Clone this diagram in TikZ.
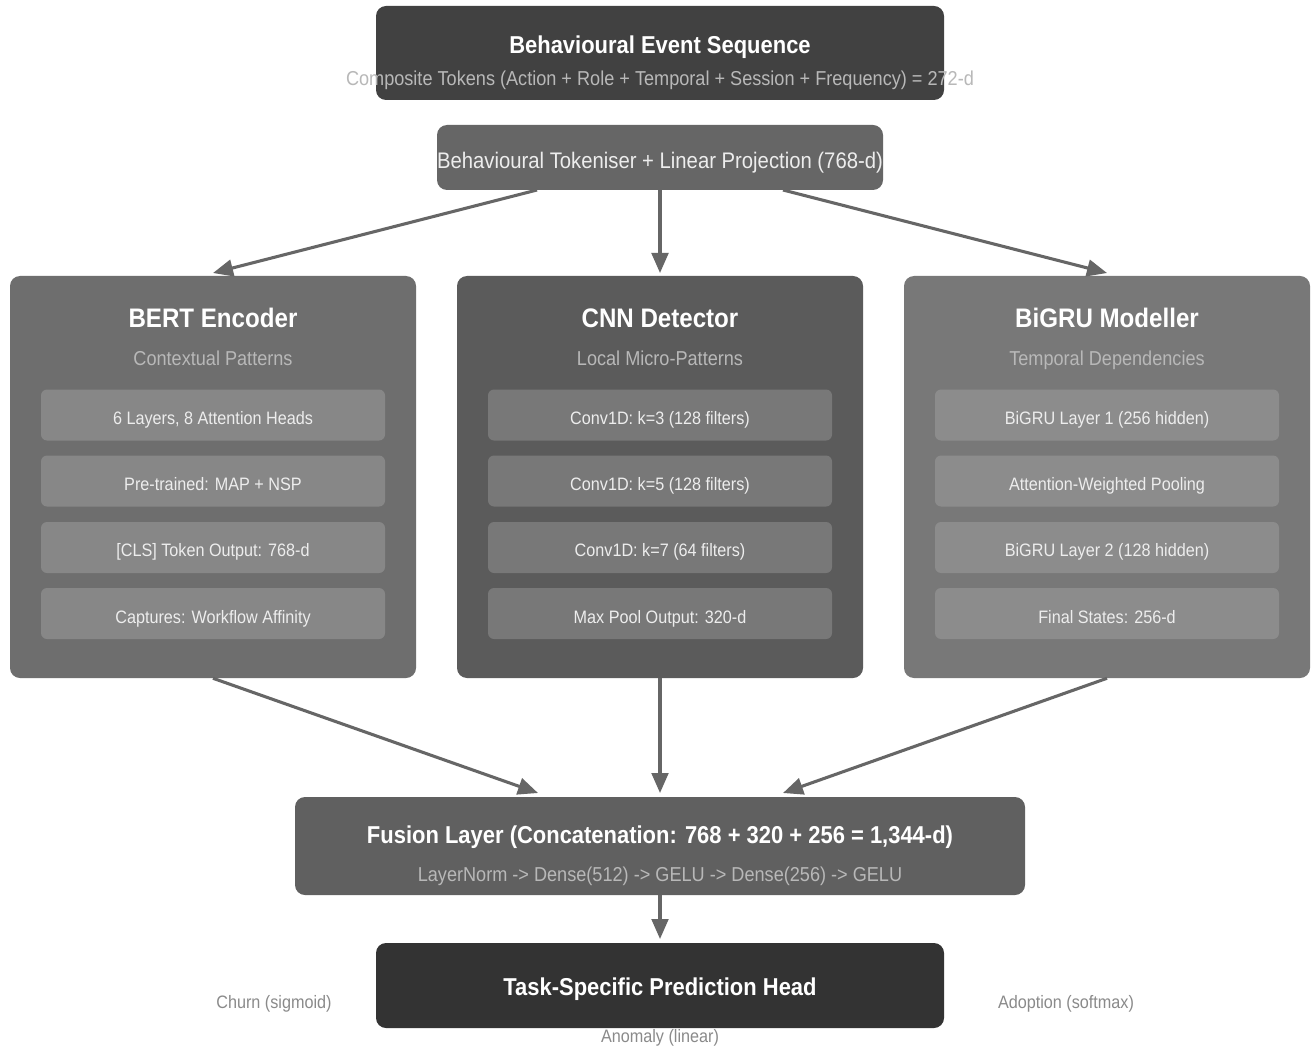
\documentclass[tikz,border=0pt]{standalone}
\usepackage{fontspec}
\setmainfont{Liberation Sans}[FakeStretch=0.9]
\usetikzlibrary{arrows.meta}
\definecolor{topc}{HTML}{414141}
\definecolor{tokc}{HTML}{666666}
\definecolor{bertc}{HTML}{6E6E6E}
\definecolor{bertin}{HTML}{878787}
\definecolor{cnnc}{HTML}{5B5B5B}
\definecolor{cnnin}{HTML}{787878}
\definecolor{gruc}{HTML}{787878}
\definecolor{gruin}{HTML}{8C8C8C}
\definecolor{fusc}{HTML}{606060}
\definecolor{headc}{HTML}{333333}
\definecolor{arrc}{HTML}{666666}
\definecolor{subc}{HTML}{B8B8B8}
\definecolor{labc}{HTML}{8A8A8A}
\newcommand\pxu{0.75pt}
\tikzset{
  boxr/.style={draw=none, rounded corners=7.5pt, inner sep=0pt},
  innerbox/.style={draw=none, rounded corners=4.5pt, inner sep=0pt, minimum width={344*\pxu}, minimum height={51*\pxu}},
  intext/.style={anchor=base, inner sep=0pt, text=white!93!black, font=\fontsize{13.5pt}{16pt}\selectfont},
  ptitle/.style={anchor=base, text=white, font=\fontsize{20.1pt}{23pt}\selectfont\bfseries, inner sep=0pt},
  btitle/.style={anchor=base, text=white, font=\fontsize{18.3pt}{21pt}\selectfont\bfseries, inner sep=0pt},
  psub/.style={anchor=base, text=subc, font=\fontsize{15.1pt}{18pt}\selectfont, inner sep=0pt},
  lab/.style={anchor=base, text=labc, font=\fontsize{13.5pt}{16pt}\selectfont, inner sep=0pt},
  conn/.style={draw=arrc, line width=2.3pt, -{Triangle[length=15pt,width=12.5pt]}},
}
\begin{document}
\begin{tikzpicture}[x=0.75pt,y=-0.75pt]
\useasboundingbox[fill=white] (0,0) rectangle (1312,1048);
% top box
\node[boxr, fill=topc, minimum width={568*\pxu}, minimum height={94*\pxu}] (seq) at (660,53) {};
\node[btitle] (seqt) at (660,53.5) {Behavioural Event Sequence};
\node[psub] (seqs) at (660,86) {Composite Tokens (Action + Role + Temporal + Session + Frequency) = 272-d};
% tokeniser
\node[boxr, fill=tokc, minimum width={446*\pxu}, minimum height={65*\pxu}] (tok) at (660,157.5) {};
\node[anchor=base, text=white!93!black, font=\fontsize{16.9pt}{20pt}\selectfont, inner sep=0pt] (tokt) at (660,169) {Behavioural Tokeniser + Linear Projection (768-d)};
% panels
\foreach \nm/\cx/\pc/\ic/\ttl/\sub/\a/\b/\c/\d in {
 bert/213/bertc/bertin/BERT Encoder/Contextual Patterns/{6 Layers, 8 Attention Heads}/{Pre-trained: MAP + NSP}/{[CLS] Token Output: 768-d}/{Captures: Workflow Affinity},
 cnn/660/cnnc/cnnin/CNN Detector/Local Micro-Patterns/{Conv1D: k=3 (128 filters)}/{Conv1D: k=5 (128 filters)}/{Conv1D: k=7 (64 filters)}/{Max Pool Output: 320-d},
 gru/1107/gruc/gruin/BiGRU Modeller/Temporal Dependencies/{BiGRU Layer 1 (256 hidden)}/{Attention-Weighted Pooling}/{BiGRU Layer 2 (128 hidden)}/{Final States: 256-d}}{
  \node[boxr, fill=\pc, minimum width={406*\pxu}, minimum height={402*\pxu}] (\nm) at (\cx,477) {};
  \node[ptitle] (\nm-t) at (\cx,327.5) {\ttl};
  \node[psub] (\nm-s) at (\cx,365) {\sub};
  \node[innerbox, fill=\ic] (\nm-1) at (\cx,415) {};
  \node[innerbox, fill=\ic] (\nm-2) at (\cx,481) {};
  \node[innerbox, fill=\ic] (\nm-3) at (\cx,547.5) {};
  \node[innerbox, fill=\ic] (\nm-4) at (\cx,613.5) {};
  \node[intext] (\nm-1t) at (\cx,424.5) {\a};
  \node[intext] (\nm-2t) at (\cx,490.5) {\b};
  \node[intext] (\nm-3t) at (\cx,556.5) {\c};
  \node[intext] (\nm-4t) at (\cx,623.5) {\d};
}
% fusion
\node[boxr, fill=fusc, minimum width={730*\pxu}, minimum height={98*\pxu}] (fus) at (660,846) {};
\node[btitle] (fust) at (660,843.5) {Fusion Layer (Concatenation: 768 + 320 + 256 = 1,344-d)};
\node[psub] (fuss) at (660,881) {LayerNorm -> Dense(512) -> GELU -> Dense(256) -> GELU};
% head
\node[boxr, fill=headc, minimum width={568*\pxu}, minimum height={85*\pxu}] (head) at (660,985.5) {};
\node[btitle] (headt) at (660,995.5) {Task-Specific Prediction Head};
\node[lab] (churn) at (274,1008.5) {Churn (sigmoid)};
\node[lab] (adopt) at (1066,1008.5) {Adoption (softmax)};
\node[lab] (anom) at (660,1042.5) {Anomaly (linear)};
% connectors
\coordinate (t1) at (537,190); \coordinate (t3) at (783,190);
\coordinate (b1) at (213,273); \coordinate (b2) at (660,273); \coordinate (b3) at (1107,273);
\draw[conn] (t1) -- (b1);
\draw[conn] (tok.south) -- (b2);
\draw[conn] (t3) -- (b3);
\coordinate (f1) at (538,793); \coordinate (f2) at (660,793); \coordinate (f3) at (783,793);
\draw[conn] (bert.south) -- (f1);
\draw[conn] (cnn.south) -- (f2);
\draw[conn] (gru.south) -- (f3);
\coordinate (h1) at (660,939);
\draw[conn] (fus.south) -- (h1);
\end{tikzpicture}
\end{document}
